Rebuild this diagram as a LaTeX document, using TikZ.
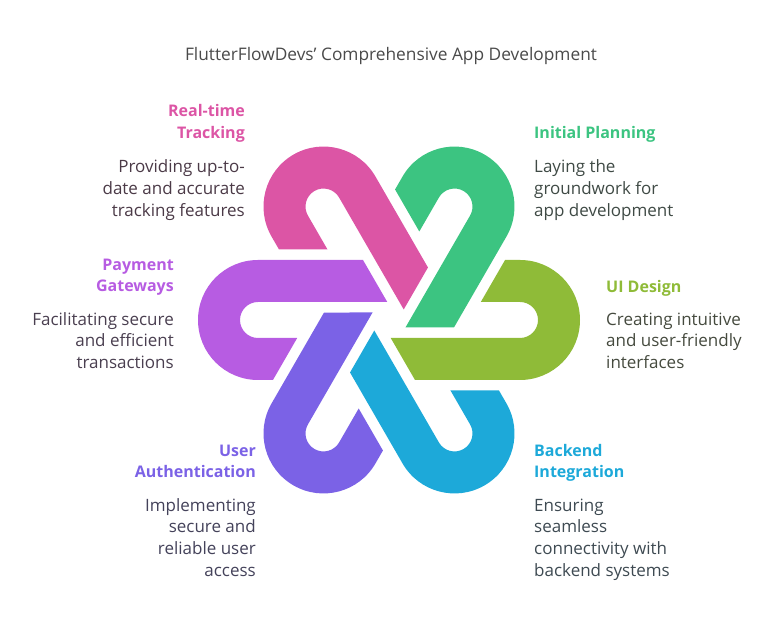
\documentclass[tikz,border=0pt]{standalone}
\usepackage{fontspec}
\setmainfont{Open Sans}
\definecolor{trackc}{HTML}{DC55A5}
\definecolor{planc}{HTML}{3CC481}
\definecolor{uic}{HTML}{8FBB38}
\definecolor{backc}{HTML}{1DA9D9}
\definecolor{authc}{HTML}{7B62E6}
\definecolor{payc}{HTML}{B75CE2}
\definecolor{titlec}{HTML}{4A4A4A}
\definecolor{trackd}{HTML}{4B3A47}
\definecolor{pland}{HTML}{3F4A45}
\definecolor{uid}{HTML}{454A3E}
\definecolor{backd}{HTML}{3E4A52}
\definecolor{authd}{HTML}{44425A}
\definecolor{payd}{HTML}{4A3F50}

\begin{document}
\begin{tikzpicture}[x=1pt, y=1pt,
  head/.style={font=\fontsize{16}{21.7}\selectfont\bfseries, inner sep=0pt},
  desc/.style={font=\fontsize{17}{21.7}\selectfont, inner sep=0pt}]
  \useasboundingbox (0,0) rectangle (780,626);
  \node[font=\fontsize{17.3}{20}\selectfont, text=titlec, inner sep=0pt, anchor=base] (title) at (391,565)
    {FlutterFlowDevs' Comprehensive App Development};
  % six hairpins, one shape turned round the centre
  \begin{scope}[shift={(389,306)}]
    \foreach \ang/\col in {0/payc, -60/trackc, -120/planc, 180/uic, 120/backc, 60/authc}
      \fill[\col, rotate=\ang] (-26,60) -- (-131,60) arc[start angle=90, end angle=270, radius=60pt]
        -- (-116.05,-60) -- (-91.8,-18) -- (-131,-18) arc[start angle=270, end angle=90, radius=18pt]
        -- (-1.73,18) -- cycle;
  \end{scope}
  % labels
  \node[head, text=trackc, align=right, anchor=north east] (trackhead) at (245,524.7) {\strut Real-time\\Tracking};
  \node[desc, text=trackd, align=right, anchor=north east] (trackdesc) at (245,468.7) {\strut Providing up-to-\\date and accurate\\tracking features};
  \node[head, text=planc, align=left, anchor=north west] (planhead) at (534,502.7) {\strut Initial Planning};
  \node[desc, text=pland, align=left, anchor=north west] (plandesc) at (534,468.7) {\strut Laying the\\groundwork for\\app development};
  \node[head, text=payc, align=right, anchor=north east] (payhead) at (174,371.2) {\strut Payment\\Gateways};
  \node[desc, text=payd, align=right, anchor=north east] (paydesc) at (174,316.2) {\strut Facilitating secure\\and efficient\\transactions};
  \node[head, text=uic, align=left, anchor=north west] (uihead) at (606,349.2) {\strut UI Design};
  \node[desc, text=uid, align=left, anchor=north west] (uidesc) at (606,316.2) {\strut Creating intuitive\\and user-friendly\\interfaces};
  \node[head, text=authc, align=right, anchor=north east] (authhead) at (256,185.2) {\strut User\\Authentication};
  \node[desc, text=authd, align=right, anchor=north east] (authdesc) at (256,130.2) {\strut Implementing\\secure and\\reliable user\\access};
  \node[head, text=backc, align=left, anchor=north west] (backhead) at (534,185.2) {\strut Backend\\Integration};
  \node[desc, text=backd, align=left, anchor=north west] (backdesc) at (534,130.2) {\strut Ensuring\\seamless\\connectivity with\\backend systems};
\end{tikzpicture}
\end{document}
